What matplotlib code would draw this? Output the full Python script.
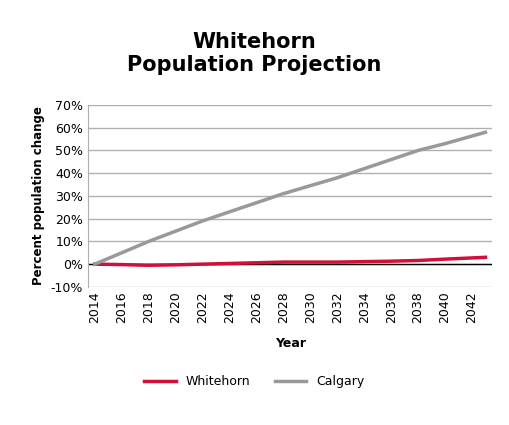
import matplotlib.pyplot as plt

years = [2014, 2016, 2018, 2020, 2022, 2024, 2026, 2028, 2030, 2032, 2034, 2036, 2038, 2040, 2043]
whitehorn = [0.0, -0.2, -0.5, -0.3, 0.0, 0.3, 0.6, 0.9, 0.9, 0.9, 1.1, 1.3, 1.6, 2.2, 3.0]
calgary = [0.0, 5.0, 10.0, 14.5, 19.0, 23.0, 27.0, 31.0, 34.5, 38.0, 42.0, 46.0, 50.0, 53.0, 58.0]
xticks = list(range(2014, 2043, 2))
yticks = list(range(-10, 71, 10))

fig = plt.figure(figsize=(5.09, 4.25), dpi=100)
ax = fig.add_axes([0.173, 0.325, 0.794, 0.428])
ax.plot(years, whitehorn, color="#d0103a", lw=2.5, label="Whitehorn", zorder=3)
ax.plot(years, calgary, color="#999999", lw=2.5, label="Calgary", zorder=3)
ax.axhline(0, color="black", lw=1, zorder=2)
ax.set_xlim(2013.5, 2043.5)
ax.set_ylim(-10, 70)
ax.set_xticks(xticks)
ax.set_xticklabels([str(x) for x in xticks], rotation=90, fontsize=9)
ax.set_yticks(yticks)
ax.set_yticklabels([f"{y}%" for y in yticks], fontsize=9)
ax.yaxis.grid(True, color="#b0b0b0", lw=1)
for s in ["top", "right"]:
    ax.spines[s].set_visible(False)
ax.spines["left"].set_color("#b0b0b0")
ax.spines["bottom"].set_visible(False)
ax.tick_params(length=0)
ax.set_xlabel("Year", fontsize=9, fontweight="bold", labelpad=10)
ax.set_ylabel("Percent population change", fontsize=8.5, fontweight="bold")
fig.suptitle("Whitehorn\nPopulation Projection", fontsize=15, fontweight="bold", y=0.925)
fig.legend(loc="lower center", bbox_to_anchor=(0.5, 0.06), ncol=2, frameon=False, fontsize=9,
           handlelength=2.5)
fig.savefig("out.png")
